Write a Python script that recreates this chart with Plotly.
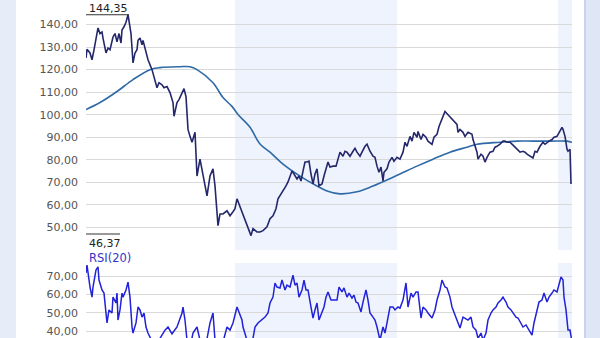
import plotly.graph_objects as go

# ---------------- data (trading-day index) -------------
price_day = [0, 1, 4, 6, 8, 12, 14, 16, 17, 20,
             22, 24, 27, 29, 31, 33, 35, 36, 38, 40,
             42, 45, 47, 49, 51, 52, 54, 56, 57, 60,
             62, 66, 68, 71, 73, 76, 78, 81, 84, 87,
             88, 91, 93, 96, 98, 100, 101, 102, 104, 106,
             109, 111, 114, 119, 121, 124, 127, 129, 131, 132,
             134, 137, 141, 144, 147, 149, 151, 154, 157, 159,
             162, 165, 167, 171, 174, 177, 181, 184, 187, 190,
             192, 195, 197, 200, 202, 204, 206, 208, 211, 213,
             215, 217, 219, 221, 223, 225, 227, 229, 231, 233,
             236, 238, 240, 242, 244, 247, 250, 252, 254, 257,
             259, 261, 264, 267, 269, 271, 274, 276, 279, 281,
             284, 287, 289, 291, 293, 295, 297, 298, 301, 303,
             306, 308, 311, 314, 317, 319, 321, 324, 326, 328,
             331, 332, 335, 337, 340, 342, 346, 348, 351, 353,
             356, 359, 362, 366, 371, 372, 374, 377, 379, 382,
             386, 387, 389, 391, 392, 395, 397, 399, 401, 404,
             407, 409, 411, 414, 417, 419, 421, 424, 427, 429,
             431, 434, 437, 439, 441, 444, 447, 449, 451, 454,
             457, 459, 461, 463, 466, 468, 471, 473, 476, 477,
             479, 481, 482, 484, 485]
price = [125.2, 129, 127.4, 124.4, 128.8, 138.5, 136, 136.7, 134, 127.4,
         129.6, 128.8, 134.5, 136, 132.3, 136, 131.8, 137.6, 139, 141,
         144.35, 136, 123, 127.4, 128.8, 133, 134, 131, 133, 128,
         124.4, 120, 116.4, 112, 114.2, 113.3, 112, 112.5, 109.8, 105.4,
         99.3, 105.4, 106.7, 109.8, 111.6, 108, 96.6, 93.5, 90.4, 87.8,
         92.2, 72.8, 80.3, 68.4, 64, 72.8, 76, 68.4, 55.2, 50.8,
         56, 56, 57.4, 55.2, 57, 58.3, 62.7, 59.2, 55.2, 52.5,
         49.5, 46.37, 49.5, 48, 48, 48.6, 50.3, 53.9, 55.2, 58.3,
         62.7, 64.9, 65.8, 68.4, 70.2, 72.8, 75, 73.7, 71.5, 72.8,
         70.6, 75, 79, 79, 79.4, 73.7, 69.3, 73.7, 76, 68.4,
         69.3, 72.8, 76, 79, 76.8, 77.2, 77.2, 80.3, 83.4, 81.6,
         83.8, 83.4, 81.6, 83.8, 85.1, 83.4, 81.6, 83.4, 86, 86.9,
         83.8, 81.6, 81.1, 77.2, 74.5, 76.8, 70.6, 74.5, 76, 79,
         81.1, 79.4, 81.1, 80.3, 83.4, 87.8, 86, 90.4, 88.3, 92.2,
         90, 92.6, 89, 91.3, 90, 88.3, 86.9, 90, 91.3, 94.8,
         97.9, 101.4, 100, 97.9, 95.7, 92.2, 93.5, 92.2, 90.4, 92.2,
         91.3, 89, 86, 83.4, 80.3, 82.5, 81.6, 79, 81.1, 83.4,
         83.8, 85.6, 86, 86.9, 88.3, 88.3, 87.8, 87.8, 86.5, 85.6,
         84.7, 83.4, 83.8, 83.4, 82.5, 81.6, 80.8, 83.8, 83.4, 86,
         87.8, 86.9, 87.8, 88.3, 89, 90, 90.4, 92.2, 94.4, 93.5,
         90.4, 84.7, 83.8, 84.7, 69.3]

ma_day = [0, 14, 31, 47, 64, 74, 94, 104, 111, 127, 137, 146, 152, 164, 174, 184,
          197, 214, 231, 241, 254, 271, 287, 307, 314, 331, 347, 364, 381, 391,
          414, 431, 447, 464, 481, 486]
ma = [102.3, 105.4, 110.3, 115.6, 120, 120.9, 121.3, 121.3, 120, 114.2, 107.6, 103.7,
      100.1, 94.4, 87, 83.4, 78.1, 72.8, 68.4, 66.2, 64.9, 65.8, 68.4, 72.3, 73.7,
      77.2, 80.3, 83.4, 85.6, 86.9, 87.8, 88.3, 88.3, 88.3, 88.3, 87.8]

rsi_day = [0, 1, 4, 6, 7, 10, 12, 13, 16, 18,
           20, 21, 23, 26, 27, 30, 31, 32, 34, 36,
           37, 40, 42, 44, 46, 47, 50, 52, 54, 56,
           58, 60, 62, 66, 70, 74, 79, 82, 86, 91,
           96, 97, 99, 101, 104, 107, 111, 114, 119, 124,
           127, 129, 134, 137, 141, 144, 147, 151, 153, 156,
           157, 161, 166, 169, 172, 176, 179, 182, 184, 187,
           189, 191, 194, 196, 199, 201, 204, 207, 209, 211,
           213, 216, 218, 220, 222, 225, 227, 229, 231, 233,
           236, 238, 240, 242, 245, 247, 251, 253, 256, 258,
           261, 263, 266, 268, 270, 272, 275, 277, 280, 282,
           284, 287, 289, 291, 294, 297, 299, 301, 304, 307,
           309, 312, 314, 317, 320, 322, 325, 327, 330, 332,
           335, 337, 340, 342, 346, 349, 351, 354, 356, 359,
           361, 364, 366, 369, 371, 374, 377, 379, 382, 385,
           387, 390, 392, 395, 397, 400, 402, 405, 407, 410,
           412, 415, 417, 420, 422, 425, 427, 430, 432, 435,
           437, 440, 443, 446, 448, 451, 453, 456, 458, 461,
           463, 466, 468, 471, 473, 475, 477, 478, 480, 482,
           484, 486]
rsi = [71.6, 76, 64, 58.5, 64, 73.3, 75, 67.8, 62.4, 60.7,
       49.8, 44.4, 51.5, 49.8, 58.5, 55.3, 60.7, 46, 51.5, 60.7,
       58.5, 62.4, 66.7, 58.5, 42.2, 38.9, 44.4, 53.1, 51.5, 47.6,
       49.8, 42.2, 38.9, 34, 30, 36, 40.5, 42.2, 38.5, 42.2,
       49.8, 53.1, 46, 35, 31, 38.9, 42.2, 35, 30, 44.4,
       49.8, 35, 28, 34, 42.2, 40.5, 44.4, 53.1, 49.8, 46,
       42.2, 35, 33, 42.2, 44.4, 46, 47.6, 49.8, 55.3, 58.5,
       66.2, 64, 63.5, 67.8, 62.4, 65, 64, 70.5, 65, 66.2,
       58.5, 62.4, 67.8, 62.4, 62.4, 53.1, 47.1, 51.5, 55.3, 46,
       49.8, 53.1, 58.5, 61.3, 56.9, 56.9, 56.9, 64, 61.3, 63.5,
       58.5, 60.7, 58, 59.6, 55.8, 55.3, 50.4, 55.8, 62.4, 56.9,
       49.8, 47.6, 46, 42.2, 35, 42.2, 38.9, 44.4, 53.1, 53.1,
       51.5, 53.1, 52.5, 56.9, 66.2, 53.1, 60.7, 58.5, 61.3, 61.3,
       47.1, 53.1, 51.5, 49.8, 47.1, 51.5, 56.9, 62.4, 67.8, 64,
       63.5, 58.5, 53.1, 48.7, 46, 41.6, 47.6, 47.1, 46, 47.6,
       42.2, 40.5, 36, 38.9, 35, 38.9, 46, 49.8, 51.5, 53.1,
       55.3, 56.9, 58.5, 55.8, 53.1, 51.5, 49.8, 47.6, 47.1, 44.4,
       42.2, 43.3, 40.5, 37.8, 44.4, 51.5, 55.8, 56.9, 60.7, 55.8,
       58.5, 60.7, 62.4, 61.3, 65, 69.5, 67.8, 58.5, 51.5, 40.5,
       40.5, 34]

price_ticks = [50, 60, 70, 80, 90, 100, 110, 120, 130, 140, 150]
price_tick_text = ["50,00", "60,00", "70,00", "80,00", "90,00", "100,00",
                   "110,00", "120,00", "130,00", "140,00", ""]
rsi_ticks = [40, 50, 60, 70]
rsi_tick_text = ["40,00", "50,00", "60,00", "70,00"]

highlight_periods = [(149, 311), (472, 486)]
max_label, max_value = "144,35", 144.35
min_label, min_value = "46,37", 46.37

# ---------------- figure -------------
W, H = 600, 338
FONT = "DejaVu Sans"
fig = go.Figure()

fig.add_trace(go.Scatter(x=ma_day, y=ma, mode="lines", line=dict(color="#2f6aa6", width=1.6, shape="spline"),
                         xaxis="x", yaxis="y", hoverinfo="skip"))
fig.add_trace(go.Scatter(x=price_day, y=price, mode="lines", line=dict(color="#24286a", width=1.6),
                         xaxis="x", yaxis="y", hoverinfo="skip"))
fig.add_trace(go.Scatter(x=rsi_day, y=rsi, mode="lines", line=dict(color="#2222d8", width=1.5),
                         xaxis="x", yaxis="y2", hoverinfo="skip"))

x0p, x1p = 86 / W, 572 / W
shapes = [
    dict(type="rect", xref="paper", yref="paper", x0=0, x1=16 / W, y0=0, y1=1,
         fillcolor="#e6edf9", line_width=0, layer="below"),
    dict(type="rect", xref="paper", yref="paper", x0=584 / W, x1=1, y0=0, y1=1,
         fillcolor="#dfe7f6", line_width=0, layer="below"),
    dict(type="line", xref="paper", yref="paper", x0=585 / W, x1=585 / W, y0=0, y1=1,
         line=dict(color="#c9d4ea", width=2), layer="below"),
]
for a, b in highlight_periods:
    shapes.append(dict(type="rect", xref="x", yref="paper", x0=a, x1=b,
                       y0=1 - 250 / H, y1=1, fillcolor="#eef3fd", line_width=0, layer="below"))
    shapes.append(dict(type="rect", xref="x", yref="paper", x0=a, x1=b,
                       y0=0, y1=1 - 263 / H, fillcolor="#eef3fd", line_width=0, layer="below"))
shapes.append(dict(type="line", xref="x", yref="y", x0=0, x1=43, y0=max_value, y1=max_value,
                   line=dict(color="#333333", width=1)))
shapes.append(dict(type="line", xref="x", yref="paper", x0=0, x1=34, y0=1 - 234 / H, y1=1 - 234 / H,
                   line=dict(color="#333333", width=1)))

annotations = [
    dict(text=max_label, xref="paper", yref="paper", x=87 / W, y=1 - 8.5 / H, xanchor="left",
         yanchor="middle", showarrow=False, font=dict(family=FONT, size=11, color="#222222")),
    dict(text=min_label, xref="paper", yref="paper", x=87 / W, y=1 - 243 / H, xanchor="left",
         yanchor="middle", showarrow=False, font=dict(family=FONT, size=11, color="#222222")),
    dict(text="RSI(20)", xref="paper", yref="paper", x=87 / W, y=1 - 258 / H, xanchor="left",
         yanchor="middle", showarrow=False, font=dict(family=FONT, size=11.5, color="#3434c8")),
]

fig.update_layout(
    width=W, height=H,
    margin=dict(l=0, r=0, t=0, b=0),
    paper_bgcolor="white", plot_bgcolor="rgba(0,0,0,0)",
    showlegend=False,
    shapes=shapes, annotations=annotations,
    xaxis=dict(domain=[x0p, x1p], range=[0, 486], showgrid=False, zeroline=False,
               showticklabels=False, showline=False, ticks=""),
    yaxis=dict(domain=[1 - 250 / H, 1 - 2 / H], range=[40, 150], tickvals=price_ticks,
               ticktext=price_tick_text, showgrid=True, gridcolor="#d9d9d9", gridwidth=1,
               zeroline=False, ticks="", ticklabelstandoff=7,
               tickfont=dict(family=FONT, size=11, color="#555555")),
    yaxis2=dict(domain=[0, 1 - 263 / H], range=[36.2, 77.1], tickvals=rsi_ticks,
                ticktext=rsi_tick_text, showgrid=True, gridcolor="#d9d9d9", gridwidth=1,
                zeroline=False, ticks="", ticklabelstandoff=7, anchor="x",
                tickfont=dict(family=FONT, size=11, color="#555555")),
)

fig.write_html("out.html")
